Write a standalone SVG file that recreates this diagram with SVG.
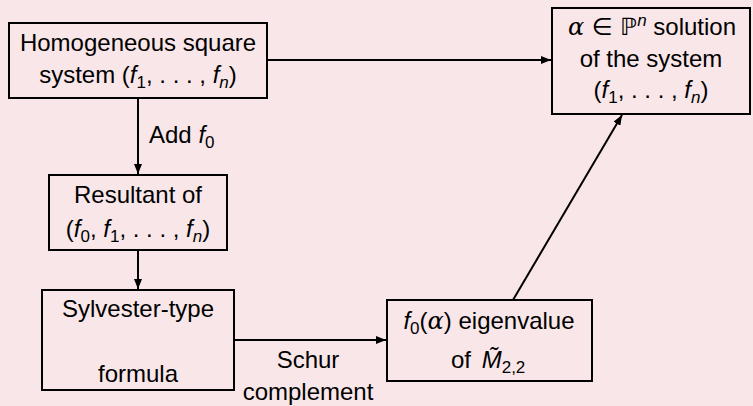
<svg xmlns="http://www.w3.org/2000/svg" width="753" height="406" viewBox="0 0 753 406">
<defs>
<style>
.bg{fill:#f9e6e8}
.box{fill:none;stroke:#000;stroke-width:2}
.edge{fill:none;stroke:#000;stroke-width:2}
text{font-family:"Liberation Sans","DejaVu Sans",sans-serif;font-size:24px;fill:#000}
.t{text-anchor:middle}
.i{font-style:italic}
.s{font-size:17px}
.g{font-family:"DejaVu Serif","Liberation Serif",serif;font-style:italic}
.m{font-family:"DejaVu Sans",sans-serif}
</style>
<marker id="ah" viewBox="0 0 10 8" refX="10" refY="4" markerWidth="10" markerHeight="8" markerUnits="userSpaceOnUse" orient="auto">
<path d="M0,0 L10,4 L0,8 Z" fill="#000"/>
</marker>
</defs>
<rect class="bg" x="0" y="0" width="753" height="406"/>
<g id="connectors">
<line class="edge" x1="267" y1="60" x2="551" y2="60" marker-end="url(#ah)"/>
<line class="edge" x1="138" y1="98" x2="138" y2="174" marker-end="url(#ah)"/>
<line class="edge" x1="138" y1="250" x2="138" y2="289" marker-end="url(#ah)"/>
<line class="edge" x1="234" y1="340" x2="386" y2="340" marker-end="url(#ah)"/>
<line class="edge" x1="513" y1="300" x2="622" y2="115" marker-end="url(#ah)"/>
<text x="149" y="143">Add <tspan class="i">f</tspan><tspan class="s" dy="5">0</tspan></text>
<text class="t" x="308" y="368">Schur</text>
<text class="t" x="308" y="400">complement</text>
</g>
<g id="homogeneous">
<rect class="box" x="9" y="23" width="258" height="75"/>
<text class="t" x="138" y="51">Homogeneous square</text>
<text class="t" x="138" y="83">system (<tspan class="i">f</tspan><tspan class="s" dy="5">1</tspan><tspan dy="-5">, . . . , </tspan><tspan class="i">f</tspan><tspan class="s i" dy="5">n</tspan><tspan dy="-5">)</tspan></text>
</g>
<g id="solution">
<rect class="box" x="552" y="8" width="198" height="106"/>
<text class="t" x="652" y="35"><tspan class="g">α</tspan><tspan class="m"> ∈ ℙ</tspan><tspan class="s i" dy="-9">n</tspan><tspan dy="9"> solution</tspan></text>
<text class="t" x="651" y="67">of the system</text>
<text class="t" x="651" y="98">(<tspan class="i">f</tspan><tspan class="s" dy="5">1</tspan><tspan dy="-5">, . . . , </tspan><tspan class="i">f</tspan><tspan class="s i" dy="5">n</tspan><tspan dy="-5">)</tspan></text>
</g>
<g id="resultant">
<rect class="box" x="49" y="175" width="178" height="75"/>
<text class="t" x="138" y="203">Resultant of</text>
<text class="t" x="138" y="237">(<tspan class="i">f</tspan><tspan class="s" dy="5">0</tspan><tspan dy="-5">, </tspan><tspan class="i">f</tspan><tspan class="s" dy="5">1</tspan><tspan dy="-5">, . . . , </tspan><tspan class="i">f</tspan><tspan class="s i" dy="5">n</tspan><tspan dy="-5">)</tspan></text>
</g>
<g id="sylvester">
<rect class="box" x="42" y="290" width="192" height="100"/>
<text class="t" x="138" y="317">Sylvester-type</text>
<text class="t" x="138" y="382">formula</text>
</g>
<g id="eigenvalue">
<rect class="box" x="387" y="300" width="205" height="81"/>
<text class="t" x="489" y="329"><tspan class="i">f</tspan><tspan class="s" dy="5">0</tspan><tspan dy="-5">(</tspan><tspan class="g">α</tspan>) eigenvalue</text>
<text x="451" y="368">of <tspan class="i" dx="4">M&#x303;</tspan><tspan class="s" dy="5">2,2</tspan></text>
</g>
</svg>
